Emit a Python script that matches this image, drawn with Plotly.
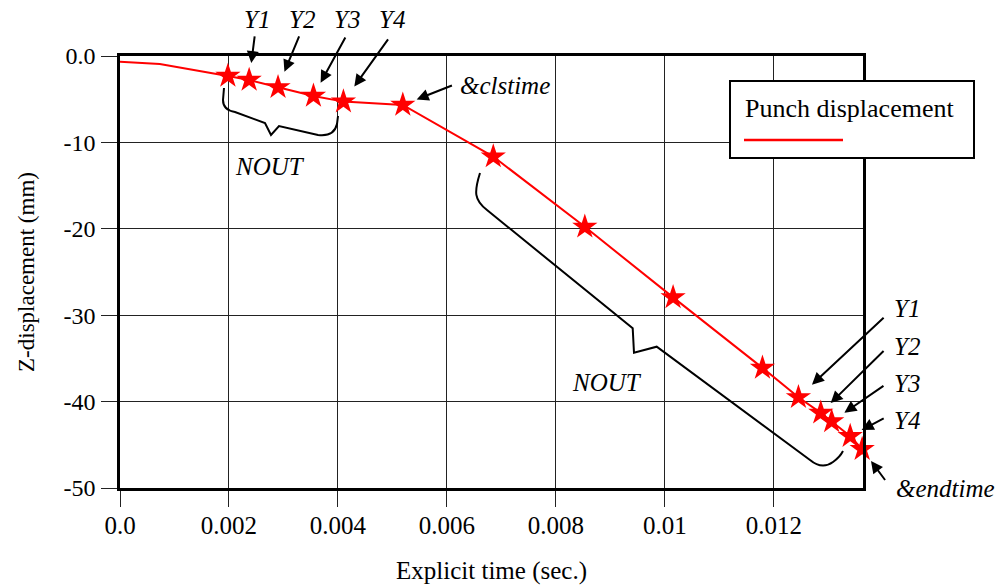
import plotly.graph_objects as go

# ---------------- data ----------------
lead_time = [0.0, 0.00073]
lead_disp = [-0.66, -0.92]
out_time = [0.00198, 0.00237, 0.0029, 0.00355, 0.0041, 0.00519, 0.00685,
            0.00853, 0.01015, 0.01179, 0.01245, 0.01286, 0.01306, 0.0134, 0.01362]
out_disp = [-2.31, -2.77, -3.62, -4.62, -5.28, -5.66, -11.64,
            -19.77, -27.94, -36.1, -39.5, -41.3, -42.3, -44.0, -45.5]
x_ticks = [0.0, 0.002, 0.004, 0.006, 0.008, 0.010, 0.012]
x_tick_labels = ["0.0", "0.002", "0.004", "0.006", "0.008", "0.01", "0.012"]
y_ticks = [0, -10, -20, -30, -40, -50]
y_tick_labels = ["0.0", "-10", "-20", "-30", "-40", "-50"]
series_name = "Punch displacement"

# ---------------- layout geometry ----------------
W, H = 997, 588
L, R, T, B = 120, 134, 56, 100
PW, PH = W - L - R, H - T - B
FONT = "Liberation Serif"


def px(xp):
    return (xp - L) / PW


def py(yp):
    return (H - B - yp) / PH


def paper_path(cmds):
    out = []
    for c in cmds:
        op, pts = c[0], c[1:]
        out.append(op + " " + " ".join(f"{px(a):.5f},{py(b):.5f}" for a, b in pts))
    return " ".join(out)


fig = go.Figure()
fig.add_trace(go.Scatter(
    x=lead_time + out_time, y=lead_disp + out_disp, mode="lines",
    line=dict(color="#ff0000", width=2), showlegend=False, cliponaxis=False,
    name=series_name))
fig.add_trace(go.Scatter(
    x=out_time, y=out_disp, mode="markers",
    marker=dict(symbol="star", size=19, color="#ff0000", line=dict(width=0)),
    showlegend=False, cliponaxis=False, name=series_name))

axis_common = dict(
    showline=True, mirror=True, linecolor="black", linewidth=2.5,
    showgrid=True, gridcolor="#222", gridwidth=1, zeroline=False,
    ticks="outside", ticklen=16, tickwidth=1, tickcolor="#222",
)
fig.update_xaxes(range=[0, 0.013635], tickvals=x_ticks, ticktext=x_tick_labels,
                 tickfont=dict(family=FONT, size=25, color="black"),
                 title=dict(text="Explicit time (sec.)", standoff=24,
                            font=dict(family=FONT, size=25, color="black")),
                 ticklabelstandoff=-3, **axis_common)
fig.update_yaxes(range=[-50, 0], tickvals=y_ticks, ticktext=y_tick_labels,
                 tickfont=dict(family=FONT, size=24, color="black"),
                 title=dict(text="Z-displacement (mm)", standoff=23,
                            font=dict(family=FONT, size=23, color="black")),
                 ticklabelstandoff=1, **axis_common)

# ---------------- arrows (pointing at output stars) ----------------
# (star index, tail dx, tail dy, standoff)
arrows = [
    (1, 5.7, -45, 17), (2, 21.7, -52.3, 16.7), (3, 32.7, -60, 15), (4, 45.7, -63.7, 18.7),
    (5, 50.6, -20, 14.9),
    (10, 86.7, -81, 18.5), (11, 64.3, -63.3, 13.9), (12, 53.3, -36.7, 15.4),
    (13, 35, -18.7, 13), (14, 24, 32.4, 14.8),
]
for i, dx, dy, so in arrows:
    fig.add_annotation(x=out_time[i], y=out_disp[i], xref="x", yref="y",
                       ax=dx, ay=dy, text="", showarrow=True, arrowhead=2,
                       arrowsize=1.2, arrowwidth=2, arrowcolor="black", standoff=so)

# ---------------- labels ----------------
labels = [
    ("Y1", 257, 19), ("Y2", 302, 19), ("Y3", 347, 19), ("Y4", 392, 19),
    ("&clstime", 505, 85), ("NOUT", 270, 166), ("NOUT", 607, 382),
    ("Y1", 907, 308), ("Y2", 907, 346), ("Y3", 907, 383), ("Y4", 907, 420),
    ("&endtime", 945, 488),
]
for txt, xp, yp in labels:
    fig.add_annotation(x=px(xp), y=py(yp), xref="paper", yref="paper",
                       text=f"<i>{txt.replace('&', '&amp;')}</i>", showarrow=False,
                       xanchor="center", yanchor="middle",
                       font=dict(family=FONT, size=25, color="black"))

# ---------------- braces ----------------
top_brace = paper_path([
    ("M", (224, 88)), ("L", (223, 100)), ("Q", (223, 110), (235, 112)),
    ("L", (265, 123)), ("L", (271, 135)), ("L", (279, 126)), ("L", (318, 135)),
    ("Q", (334, 137), (337, 124)), ("L", (338, 116)),
])
big_brace = paper_path([
    ("M", (480, 173)), ("C", (474, 192), (474, 200), (487, 210)),
    ("L", (632.7, 328.3)), ("L", (634, 352.7)), ("L", (656.7, 346.7)),
    ("L", (810, 460)), ("Q", (822, 470), (833, 462)), ("Q", (840, 457), (843, 451)),
])
for p in (top_brace, big_brace):
    fig.add_shape(type="path", path=p, xref="paper", yref="paper",
                  line=dict(color="black", width=2), layer="above")

# ---------------- legend box ----------------
fig.add_shape(type="rect", xref="paper", yref="paper",
              x0=px(730), x1=px(974), y0=py(158), y1=py(81),
              line=dict(color="black", width=2), fillcolor="white", layer="above")
fig.add_shape(type="line", xref="paper", yref="paper",
              x0=px(744), x1=px(843), y0=py(140), y1=py(140),
              line=dict(color="#ff0000", width=2.5), layer="above")
fig.add_annotation(x=px(743), y=py(108), xref="paper", yref="paper",
                   text=series_name, showarrow=False, xanchor="left", yanchor="middle",
                   font=dict(family=FONT, size=26, color="black"))

fig.update_layout(
    width=W, height=H, margin=dict(l=L, r=R, t=T, b=B, autoexpand=False),
    plot_bgcolor="white", paper_bgcolor="white", showlegend=False,
    font=dict(family=FONT, color="black"),
)
fig.write_html("out.html", config={"displayModeBar": False},
               post_script="document.body.style.margin='0px';")
